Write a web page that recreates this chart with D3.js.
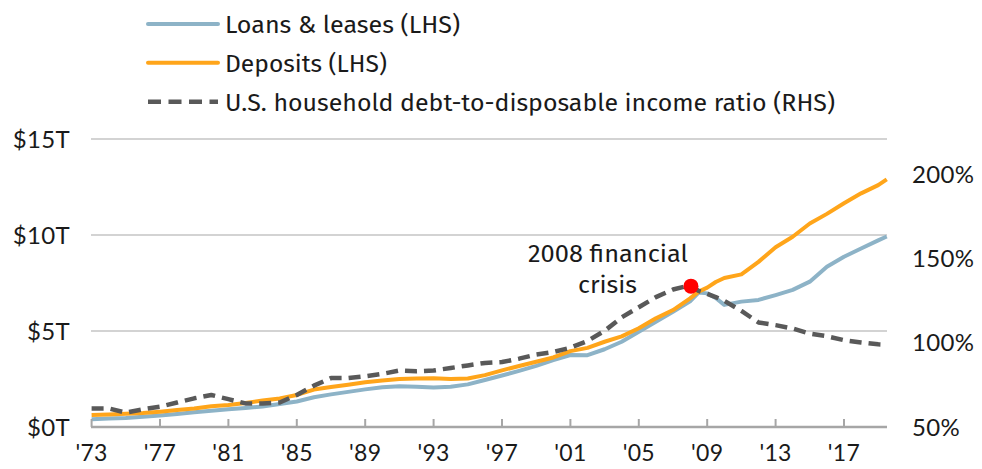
<!DOCTYPE html>
<html>
<head>
<meta charset="utf-8">
<script src="https://cdn.jsdelivr.net/npm/d3@7"></script>
<style>
  html, body { margin: 0; padding: 0; background: #fff; }
  svg { display: block; }
  .tick-label { font-family: Lato, "Open Sans", sans-serif; font-size: 24px; fill: #1a1a1a; letter-spacing: 0.3px; }
  .x-label { font-size: 23px; }
  .legend-text, .annot { font-family: "Fira Sans", "Noto Sans", "Open Sans", sans-serif; font-size: 24px; fill: #1a1a1a; }
</style>
</head>
<body>
<svg id="chart" width="982" height="469"></svg>
<script>
// ---------- DATA ----------
const years = [1973,1974,1975,1976,1977,1978,1979,1980,1981,1982,1983,1984,1985,1986,1987,1988,1989,1990,
  1991,1992,1993,1994,1995,1996,1997,1998,1999,2000,2001,2002,2003,2004,2005,2006,2007,2008,2008.5,2009,2009.5,
  2010,2011,2012,2013,2014,2015,2016,2017,2018,2019,2019.5];

// Loans & leases, $ trillions (LHS)
const loans = [0.40,0.44,0.47,0.53,0.60,0.68,0.77,0.85,0.92,0.99,1.07,1.20,1.33,1.55,1.70,1.83,1.96,2.07,
  2.12,2.10,2.06,2.10,2.22,2.45,2.68,2.92,3.18,3.48,3.75,3.74,4.05,4.44,4.96,5.48,6.00,6.55,7.00,6.96,6.72,
  6.36,6.53,6.62,6.87,7.14,7.57,8.35,8.87,9.30,9.72,9.92];

// Deposits, $ trillions (LHS)
const deposits = [0.62,0.65,0.69,0.73,0.80,0.88,0.96,1.08,1.15,1.25,1.38,1.49,1.67,1.95,2.08,2.20,2.33,2.42,
  2.50,2.53,2.54,2.50,2.53,2.70,2.95,3.18,3.40,3.62,3.95,4.12,4.44,4.72,5.14,5.66,6.09,6.70,7.05,7.26,7.55,
  7.76,7.95,8.60,9.36,9.91,10.60,11.10,11.65,12.17,12.60,12.90];

// U.S. household debt-to-disposable income ratio, % (RHS)
const ratio = [61,61,58.5,60.5,62,64.5,67,69,66.5,64,64,64.5,69,74.5,79,79,80,81.5,
  83.5,83,83.5,85,86.5,88,88.5,90.5,93,94.5,97,101,107,115,121,127,131.5,134,130.7,129,127,
  124.8,118.8,112,110.4,108.4,105.4,103.8,101.5,100.1,99,98.8];

const leftTicks = [0, 5, 10, 15];
const leftTickLabels = ["$0T", "$5T", "$10T", "$15T"];
const rightTicks = [50, 100, 150, 200];
const rightTickLabels = ["50%", "100%", "150%", "200%"];
const xTicks = [1973,1977,1981,1985,1989,1993,1997,2001,2005,2009,2013,2017];
const xTickLabels = ["'73","'77","'81","'85","'89","'93","'97","'01","'05","'09","'13","'17"];

const seriesNames = ["Loans & leases (LHS)", "Deposits (LHS)", "U.S. household debt-to-disposable income ratio (RHS)"];
const crisisPoint = { year: 2008.05, ratio: 133.5 };
const crisisLabel = ["2008 financial", "crisis"];

// ---------- STYLE ----------
const colLoans = "#8db3c7", colDep = "#ffa51a", colRatio = "#595959";

const svg = d3.select("#chart");
const x = d3.scaleLinear().domain([1973, 2019.55]).range([91.6, 887.6]);
const yL = d3.scaleLinear().domain([0, 15]).range([427, 139]);
const yR = d3.scaleLinear().domain([50, 200]).range([427, 174]);

// gridlines
svg.append("g").selectAll("line").data(leftTicks.slice(1)).join("line")
  .attr("x1", 91).attr("x2", 887)
  .attr("y1", d => yL(d)).attr("y2", d => yL(d))
  .attr("stroke", "#c4c4c4").attr("stroke-width", 1.5);

// left labels
svg.append("g").selectAll("text").data(leftTicks).join("text")
  .attr("class", "tick-label")
  .attr("x", 70).attr("y", d => yL(d)).attr("dy", "0.36em")
  .attr("text-anchor", "end")
  .text((d, i) => leftTickLabels[i]);

// right labels
svg.append("g").selectAll("text").data(rightTicks).join("text")
  .attr("class", "tick-label")
  .attr("x", 912).attr("y", d => yR(d)).attr("dy", "0.36em")
  .attr("text-anchor", "start")
  .text((d, i) => rightTickLabels[i]);

// lines
const lineL = arr => d3.line().x((d, i) => x(years[i])).y(d => yL(d))(arr);
const lineR = d3.line().x((d, i) => x(years[i])).y(d => yR(d));

svg.append("path").attr("d", lineL(loans))
  .attr("fill", "none").attr("stroke", colLoans).attr("stroke-width", 4)
  .attr("stroke-linejoin", "round");
svg.append("path").attr("d", lineL(deposits))
  .attr("fill", "none").attr("stroke", colDep).attr("stroke-width", 4)
  .attr("stroke-linejoin", "round");
svg.append("path").attr("d", lineR(ratio))
  .attr("fill", "none").attr("stroke", colRatio).attr("stroke-width", 4.5)
  .attr("stroke-dasharray", "12,7").attr("stroke-linejoin", "round");

// x axis
const axis = svg.append("g");
axis.append("line").attr("x1", 91).attr("x2", 887).attr("y1", 427).attr("y2", 427)
  .attr("stroke", "#a6a6a6").attr("stroke-width", 2.5);
axis.selectAll("line.tk").data(xTicks).join("line").attr("class", "tk")
  .attr("x1", d => x(d)).attr("x2", d => x(d)).attr("y1", 419).attr("y2", 427)
  .attr("stroke", "#a6a6a6").attr("stroke-width", 2);
axis.selectAll("text").data(xTicks).join("text")
  .attr("class", "tick-label x-label")
  .attr("x", d => x(d)).attr("y", 461)
  .attr("text-anchor", "middle")
  .text((d, i) => xTickLabels[i]);

// crisis point + annotation
svg.append("circle")
  .attr("cx", x(crisisPoint.year)).attr("cy", yR(crisisPoint.ratio)).attr("r", 7.5)
  .attr("fill", "#ff0000");
svg.append("text").attr("class", "annot").attr("x", 608).attr("y", 262)
  .attr("text-anchor", "middle").attr("textLength", 160).attr("lengthAdjust", "spacingAndGlyphs")
  .text(crisisLabel[0]);
svg.append("text").attr("class", "annot").attr("x", 607.5).attr("y", 293)
  .attr("text-anchor", "middle").attr("textLength", 59).attr("lengthAdjust", "spacingAndGlyphs")
  .text(crisisLabel[1]);

// legend
const legY = [24, 62.7, 101.7];
const legW = [235, 162, 610];
const legCol = [colLoans, colDep, colRatio];
const leg = svg.append("g");
seriesNames.forEach((name, i) => {
  leg.append("line").attr("x1", 148).attr("x2", 218).attr("y1", legY[i]).attr("y2", legY[i])
    .attr("stroke", legCol[i]).attr("stroke-width", i === 2 ? 4.5 : 4)
    .attr("stroke-linecap", i === 2 ? "butt" : "round")
    .attr("stroke-dasharray", i === 2 ? "13,7.5" : null);
  leg.append("text").attr("class", "legend-text")
    .attr("x", 225).attr("y", legY[i] + 9)
    .attr("textLength", legW[i]).attr("lengthAdjust", "spacingAndGlyphs")
    .text(name);
});
</script>
</body>
</html>
